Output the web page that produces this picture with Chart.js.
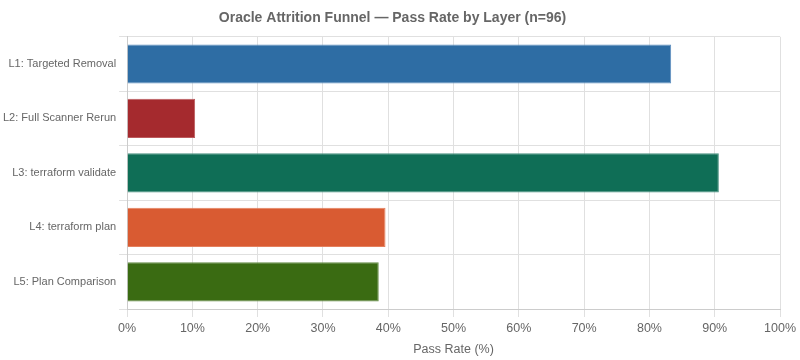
<!DOCTYPE html>
<html>
<head>
<meta charset="utf-8">
<script src="https://cdn.jsdelivr.net/npm/chart.js@4"></script>
<style>
  html, body { margin: 0; padding: 0; background: #fff; }
  #wrap { width: 800px; height: 360px; }
</style>
</head>
<body>
<div id="wrap"><canvas id="funnelChart"></canvas></div>
<script>
// layers and pass rates (n=96)
const layers = ['L1: Targeted Removal', 'L2: Full Scanner Rerun', 'L3: terraform validate', 'L4: terraform plan', 'L5: Plan Comparison'];
const passRates = [83.33, 10.42, 90.63, 39.58, 38.54];
const barColors = ['#2E6DA4', '#A52A2E', '#0F6E56', '#D95B32', '#3A6B12'];
const borderColors = ['#5E8FC0', '#BC5A5D', '#4A9180', '#E4805E', '#648C45'];

Chart.defaults.font.family = '"Liberation Sans", Arial, sans-serif';
Chart.defaults.color = '#666';

const ctx = document.getElementById('funnelChart').getContext('2d');
new Chart(ctx, {
    type: 'bar',
    data: {
        labels: layers,
        datasets: [{
            label: 'Pass Rate',
            data: passRates,
            backgroundColor: barColors,
            borderColor: borderColors,
            borderWidth: 1
        }]
    },
    options: {
        indexAxis: 'y',
        responsive: true,
        maintainAspectRatio: false,
        animation: false,
        layout: { padding: { left: 0, right: 15, top: 0, bottom: 1 } },
        plugins: {
            legend: { display: false },
            tooltip: { enabled: false },
            title: {
                display: true,
                text: 'Oracle Attrition Funnel \u2014 Pass Rate by Layer (n=96)',
                font: { size: 14, weight: 'bold' },
                color: '#666',
                padding: { top: 10, bottom: 10 }
            }
        },
        scales: {
            x: {
                min: 0,
                max: 100,
                ticks: {
                    stepSize: 10,
                    padding: 4,
                    font: { size: 12.5 },
                    callback: function(v) { return v + '%'; }
                },
                grid: { color: '#e0e0e0' },
                border: { color: '#ccc' },
                title: {
                    display: true,
                    text: 'Pass Rate (%)',
                    font: { size: 12.5 },
                    padding: { top: 2, bottom: 2 }
                }
            },
            y: {
                ticks: { font: { size: 11 } },
                grid: { color: '#e0e0e0' },
                border: { color: '#ccc' }
            }
        }
    }
});
</script>
</body>
</html>
